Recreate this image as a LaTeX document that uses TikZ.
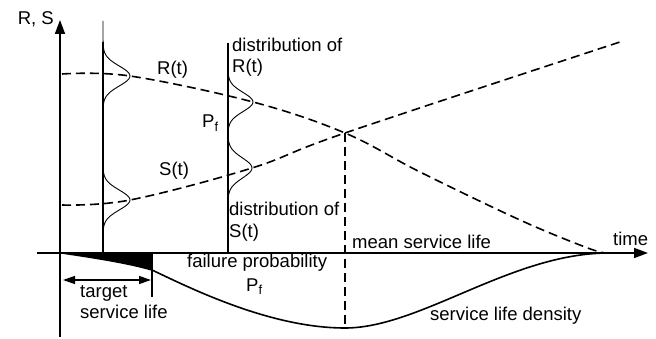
\documentclass[tikz,border=0pt]{standalone}
\usepackage{fontspec}
\setmainfont{Liberation Sans}
\usetikzlibrary{arrows.meta,positioning}

\begin{document}
\begin{tikzpicture}[x=1pt,y=-1pt,
    axis/.style={line width=1.6pt},
    lifecurve/.style={line width=1.6pt,dash pattern=on 9pt off 5pt},
    distline/.style={line width=1.3pt},
    bump/.style={line width=0.9pt},
    every node/.style={inner sep=0pt,font=\fontsize{18.5}{21}\selectfont}]
    \useasboundingbox (0,0) rectangle (656,339);

    \coordinate (origin) at (60,253);
    \coordinate (ytop) at (60,20);
    \coordinate (xend) at (648,253);
    \coordinate (cross) at (345,133);
    \coordinate (densmin) at (345,328);
    \coordinate (tleft) at (63,280);
    \coordinate (tright) at (151,280);

    % axes
    \draw [axis,-{Triangle[length=14pt,width=10pt]}] (60,337) -- (ytop);
    \draw [axis,-{Triangle[length=14pt,width=10pt]}] (37,253) -- (xend);
    \node (rs) [anchor=east] at (54,19) {R, S};
    \node (time) [anchor=base west] at (613,246) {time};

    % distributions at two times
    \draw [distline] (103,42) -- (103,253);
    \draw [distline] (228,43) -- (228,253);
    \draw [bump] plot[domain=21:125,samples=60,variable=\t] ({103+27*exp(-(\t-76)*(\t-76)/196)},\t);
    \draw [bump] plot[domain=145:240,samples=60,variable=\t] ({103+27*exp(-(\t-200)*(\t-200)/196)},\t);
    \draw [bump] plot[domain=62:145,samples=60,variable=\t] ({228+25*exp(-(\t-102)*(\t-102)/180)},\t);
    \draw [bump] plot[domain=118:205,samples=60,variable=\t] ({228+24*exp(-(\t-168)*(\t-168)/200)},\t);

    % resistance and load
    \draw [lifecurve] plot[smooth,tension=0.6] coordinates
        {(62,74) (130,76) (253,102) (cross) (420,172) (520,220) (585,247) (605,253)};
    \draw [lifecurve] plot[smooth,tension=0.6] coordinates
        {(62,205) (130,200) (252,168) (cross) (620,42)};
    \draw [lifecurve] (cross) -- (densmin);

    \node (rlabel) [anchor=base west] at (157,75) {R(t)};
    \node (slabel) [anchor=base west] at (159,176) {S(t)};
    \node (rdist) [anchor=base west,align=left] at (232,73) {distribution of\\R(t)};
    \node (sdist) [anchor=base west,align=left] at (229,237) {distribution of\\S(t)};
    \node (pfdist) [anchor=base west] at (202,128) {P$_\mathrm{f}$};

    % service life density
    \fill (62,253) -- (152,253) -- (152,270) .. controls (135,265) and (110,260) .. (62,253) -- cycle;
    \draw [axis] (62,253) .. controls (110,260) and (135,265) .. (152,270)
        .. controls (190,288) and (270,328) .. (densmin)
        .. controls (420,328) and (510,254) .. (607,253);
    \draw [distline] (152,253) -- (152,297);
    \draw [line width=1.2pt,{Triangle[length=12pt,width=8pt]}-{Triangle[length=12pt,width=8pt]}] (tleft) -- (tright);

    \node (target) [anchor=base west,align=left] at (80,318) {target\\service life};
    \node (failure) [anchor=base west] at (187,268) {failure probability};
    \node (pf) [anchor=base west] at (246,291) {P$_\mathrm{f}$};
    \node (mean) [anchor=base west] at (352,248) {mean service life};
    \node (density) [anchor=base west] at (430,320) {service life density};
\end{tikzpicture}
\end{document}
